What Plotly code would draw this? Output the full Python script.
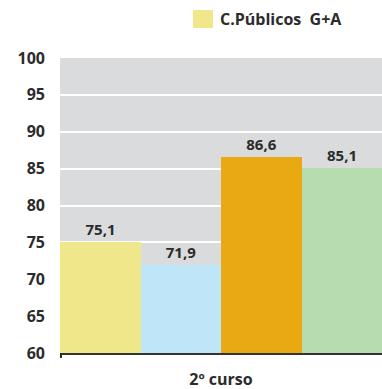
import plotly.graph_objects as go

category = ["2º curso"]
series_names = ["C.Públicos  G+A", "Serie 2", "Serie 3", "Serie 4"]
values = [75.1, 71.9, 86.6, 85.1]
labels = ["75,1", "71,9", "86,6", "85,1"]
colors = ["#f0e78a", "#bfe5f8", "#e8a913", "#b6dcb0"]
y_ticks = [60, 65, 70, 75, 80, 85, 90, 95, 100]

FONT = "Open Sans"
TXT = "#2b2b2b"
fig = go.Figure()
for i, (n, v, l, c) in enumerate(zip(series_names, values, labels, colors)):
    fig.add_trace(go.Bar(
        x=category, y=[v], name=n, marker=dict(color=c, line=dict(width=0)),
        text=[l], textposition="outside", cliponaxis=False,
        textfont=dict(family=FONT, size=15, color=TXT, weight="bold"),
        showlegend=False,
    ))

# plot area in window: x 60..382, y 58..353
PW, PH = 322, 295
fig.add_shape(type="rect", xref="paper", yref="paper",
              x0=(193 - 60) / PW, x1=(213 - 60) / PW,
              y0=(353 - 28) / PH, y1=(353 - 10) / PH,
              fillcolor=colors[0], line=dict(width=0))
fig.add_annotation(xref="paper", yref="paper", x=(218 - 60) / PW, y=(353 - 19) / PH,
                   xanchor="left", yanchor="middle", showarrow=False,
                   text=series_names[0],
                   font=dict(family=FONT, size=16, color=TXT, weight="bold"))
fig.add_shape(type="line", xref="paper", yref="paper", x0=0.003, x1=0.003,
              y0=0, y1=-5 / PH, line=dict(color=TXT, width=2))

fig.update_layout(
    width=382, height=389,
    margin=dict(l=60, r=0, t=58, b=36, autoexpand=False),
    paper_bgcolor="white", plot_bgcolor="#dadbdc",
    barmode="group", bargap=0, bargroupgap=0,
    font=dict(family=FONT, color=TXT),
    showlegend=False,
)
fig.update_yaxes(range=[60, 100], tickvals=y_ticks, showgrid=True, gridcolor="white", gridwidth=1.5,
                 zeroline=False, ticks="", showline=False, automargin=False,
                 ticklabelstandoff=14,
                 tickfont=dict(family=FONT, size=16, color=TXT, weight="bold"))
fig.update_xaxes(showline=True, linecolor="#333333", linewidth=2, ticks="", automargin=False,
                 ticklabelstandoff=11,
                 tickfont=dict(family=FONT, size=16, color=TXT, weight="bold"))
fig.write_html("out.html", config={"responsive": False, "displayModeBar": False},
               post_script="document.body.style.margin='0';document.body.style.overflow='hidden';")
